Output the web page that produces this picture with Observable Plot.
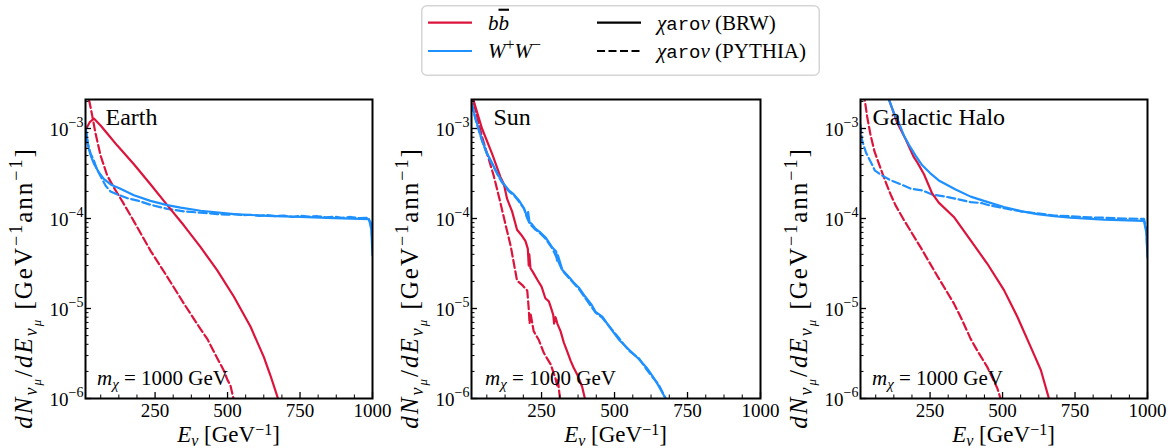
<!DOCTYPE html>
<html><head><meta charset="utf-8">
<script src="https://cdn.jsdelivr.net/npm/d3@7"></script>
<script src="https://cdn.jsdelivr.net/npm/@observablehq/plot@0.6"></script>
<style>
body{margin:0;background:#fff;}
#root{position:relative;width:1172px;height:448px;overflow:hidden;font-family:"Liberation Serif",serif;}
#root svg.panel{position:absolute;top:90px;}
#legend{position:absolute;left:421px;top:5px;overflow:visible;}
</style></head><body><div id="root"></div>
<script>
// ---------------- data (E in GeV, dN/dE) ----------------
const panelTitles = ["Earth", "Sun", "Galactic Halo"];
const xTickValues = [250, 500, 750, 1000];
const yTickValues = [1e-6, 1e-5, 1e-4, 1e-3];
const yTickExponents = ["−6", "−5", "−4", "−3"];

const earth_bb_brw = [[10,9.6e-4],[25,1.18e-3],[39,1.29e-3],[62,1.08e-3],[85,8.8e-4],[119,6.5e-4],[177,4.0e-4],[234,2.4e-4],[292,1.41e-4],[349,8.4e-5],[407,4.8e-5],[464,2.67e-5],[522,1.35e-5],[579,6.3e-6],[625,2.9e-6],[648,1.8e-6],[674,1.0e-6],[690,7e-7]];
const earth_bb_py = [[12,5.0e-3],[22,2.1e-3],[33,1.4e-3],[44,9.0e-4],[62,5.0e-4],[85,3.0e-4],[108,2.2e-4],[137,1.55e-4],[177,9.3e-5],[234,4.4e-5],[292,2.25e-5],[349,1.14e-5],[407,5.9e-6],[430,4.6e-6],[453,3.3e-6],[470,2.6e-6],[487,2.05e-6],[500,1.6e-6],[510,1.4e-6],[522,9.5e-7]];
const earth_ww_brw = [[10,1.05e-3],[15,7.8e-4],[21,6.0e-4],[30,4.8e-4],[40,4.0e-4],[55,3.3e-4],[73,2.75e-4],[100,2.35e-4],[125,2.18e-4],[177,1.81e-4],[234,1.57e-4],[292,1.41e-4],[338,1.32e-4],[407,1.22e-4],[522,1.12e-4],[637,1.07e-4],[752,1.04e-4],[867,1.01e-4],[988,9.85e-5],[996,7.5e-5],[1000,3.9e-5]];
const earth_ww_py = [[10,1.03e-3],[18,6.8e-4],[28,5.2e-4],[38,4.5e-4],[50,3.5e-4],[62,2.95e-4],[80,2.3e-4],[96,2.0e-4],[120,1.85e-4],[155,1.68e-4],[190,1.58e-4],[234,1.42e-4],[292,1.28e-4],[349,1.2e-4],[407,1.16e-4],[440,1.14e-4],[465,1.12e-4],[500,1.1e-4],[522,1.12e-4],[550,1.09e-4],[579,1.1e-4],[610,1.07e-4],[637,1.09e-4],[665,1.06e-4],[694,1.08e-4],[725,1.04e-4],[752,1.07e-4],[780,1.05e-4],[810,1.06e-4],[840,1.03e-4],[867,1.05e-4],[895,1.02e-4],[924,1.04e-4],[955,1.01e-4],[982,1.02e-4],[996,8.8e-5],[1000,5e-5]];

const sun_bb_brw = [[10,2.6e-3],[20,1.9e-3],[46,1.0e-3],[81,5.2e-4],[109,2.9e-4],[121,2.4e-4],[132,1.65e-4],[149,1.2e-4],[166,7.5e-5],[180,6.6e-5],[195,5.6e-5],[203,4.6e-5],[206,3.0e-5],[208,4.0e-5],[212,2.8e-5],[220,2.55e-5],[235,2.1e-5],[250,1.75e-5],[263,1.3e-5],[275,1.2e-5],[281,1.05e-5],[290,8.5e-6],[293,6.8e-6],[298,8.0e-6],[304,6.8e-6],[315,5.6e-6],[326,4.2e-6],[340,3.2e-6],[349,2.65e-6],[360,2.2e-6],[372,1.85e-6],[389,1.35e-6],[400,9.5e-7]];
const sun_bb_py = [[10,2.5e-3],[20,1.8e-3],[46,8.1e-4],[86,3.0e-4],[109,1.5e-4],[126,8.7e-5],[144,5.0e-5],[166,2.04e-5],[184,1.82e-5],[201,1.58e-5],[206,1.0e-5],[209,6.8e-6],[212,8.9e-6],[223,5.6e-6],[240,4.5e-6],[258,3.2e-6],[281,2.4e-6],[298,1.66e-6],[303,1.4e-6],[306,1.6e-6],[313,1.0e-6],[320,7e-7]];
const sun_ww_brw = [[10,1.95e-3],[25,1.25e-3],[46,7.4e-4],[62,5.4e-4],[81,4.1e-4],[100,3.1e-4],[115,2.55e-4],[138,2.06e-4],[155,1.85e-4],[172,1.6e-4],[190,1.3e-4],[200,1.05e-4],[204,1.18e-4],[209,9.0e-5],[215,8.8e-5],[229,7.7e-5],[246,7.0e-5],[263,6.2e-5],[286,4.8e-5],[300,4.3e-5],[303,3.4e-5],[306,3.9e-5],[321,2.7e-5],[343,2.25e-5],[360,1.95e-5],[378,1.7e-5],[400,1.35e-5],[420,1.12e-5],[435,9.2e-6],[458,8.1e-6],[490,5.8e-6],[515,4.5e-6],[549,3.5e-6],[583,2.75e-6],[610,2.2e-6],[629,1.8e-6],[650,1.4e-6],[675,1.0e-6],[690,8e-7]];
const sun_ww_py = [[10,1.9e-3],[25,1.22e-3],[46,7.3e-4],[62,5.3e-4],[81,4.0e-4],[100,3.05e-4],[115,2.5e-4],[138,2.0e-4],[155,1.82e-4],[172,1.55e-4],[190,1.28e-4],[200,1.02e-4],[209,8.8e-5],[229,7.5e-5],[246,6.8e-5],[263,6.0e-5],[286,4.7e-5],[303,3.6e-5],[321,2.65e-5],[343,2.2e-5],[378,1.65e-5],[400,1.3e-5],[435,9.0e-6],[458,7.9e-6],[490,5.9e-6],[515,4.7e-6],[549,3.4e-6],[583,2.8e-6],[610,2.1e-6],[629,1.75e-6],[650,1.45e-6],[675,1.0e-6],[690,8e-7]];

const halo_bb_brw = [[100,2.6e-3],[108,2.1e-3],[137,1.15e-3],[165,7.7e-4],[194,4.8e-4],[206,4.2e-4],[229,3.1e-4],[257,1.9e-4],[280,1.5e-4],[332,1.04e-4],[390,5.7e-5],[447,3.16e-5],[505,1.6e-5],[551,8.1e-6],[597,3.75e-6],[632,2.07e-6],[660,1.0e-6],[675,7e-7]];
const halo_bb_py = [[15,4.5e-3],[25,2.05e-3],[33,1.35e-3],[44.5,8.5e-4],[58,5.6e-4],[73,4.1e-4],[90,2.9e-4],[102,2.3e-4],[114,1.85e-4],[131,1.4e-4],[160,9.6e-5],[217,4.8e-5],[275,2.3e-5],[332,1.14e-5],[360,7.5e-6],[390,4.6e-6],[413,3.4e-6],[447,2.25e-6],[482,1.3e-6],[493,1.0e-6],[500,8.5e-7]];
const halo_ww_brw = [[90,3.3e-3],[108,2.1e-3],[125,1.5e-3],[142,1.17e-3],[160,8.3e-4],[177,6.6e-4],[200,5.0e-4],[223,3.9e-4],[250,3.2e-4],[280,2.65e-4],[338,2.1e-4],[390,1.75e-4],[441,1.55e-4],[505,1.34e-4],[563,1.21e-4],[620,1.12e-4],[678,1.06e-4],[735,1.02e-4],[850,9.7e-5],[988,9.4e-5],[996,7e-5],[1000,3.7e-5]];
const halo_ww_py = [[10,1.1e-3],[15,7.5e-4],[21.5,6.4e-4],[30,5.3e-4],[44.5,4.3e-4],[60,3.4e-4],[85,3.0e-4],[110,2.7e-4],[142,2.45e-4],[183,2.15e-4],[223,2.05e-4],[257,1.85e-4],[315,1.72e-4],[390,1.52e-4],[430,1.48e-4],[447,1.42e-4],[505,1.3e-4],[563,1.2e-4],[620,1.14e-4],[678,1.08e-4],[735,1.06e-4],[800,1.03e-4],[850,1.02e-4],[920,1.0e-4],[988,9.9e-5],[996,7.5e-5],[1000,4e-5]];

// ---------------- styling ----------------
const RED = "#dc143c", BLUE = "#1e90ff";
const SERIF = "Liberation Serif, serif";
const MONO = "Liberation Mono, DejaVu Sans Mono, monospace";
const DASH = "8,3.5";

const xMinor = [];
for (let v = 62.5; v < 1000; v += 62.5) if (!xTickValues.includes(v)) xMinor.push(v);
const yMinor = [];
for (const dec of yTickValues) for (let k = 2; k <= 9; k++) if (dec * k < 2.1e-3) yMinor.push(dec * k);

function rich(sel, parts) {
  let prev = 0;
  for (const p of parts) {
    const s = p.s || 0;
    const ts = sel.append("tspan").text(p.t);
    if (s - prev) ts.attr("dy", s - prev);
    if (p.i) ts.attr("font-style", "italic");
    if (p.m) ts.attr("font-family", MONO);
    if (p.z) ts.attr("font-size", p.z);
    if (p.ov) ts.attr("text-decoration", "overline");
    prev = s;
  }
}

const root = document.getElementById("root");

function panel(cfg) {
  const H = 358, mt = 9, mb = 50;
  const pw = cfg.width - cfg.ml - cfg.mr, ph = H - mt - mb;
  const lines = cfg.series.map(s => Plot.line(s.data, {
    x: d => d[0], y: d => d[1], stroke: s.color, strokeWidth: 2.2,
    strokeDasharray: s.dash ? DASH : null, clip: true
  }));
  const svg = Plot.plot({
    width: cfg.width, height: H,
    marginLeft: cfg.ml, marginRight: cfg.mr, marginTop: mt, marginBottom: mb,
    style: {fontFamily: SERIF, fontSize: "19px", background: "transparent", overflow: "visible", maxWidth: "none", color: "black"},
    x: {type: "linear", domain: [10, 1000]},
    y: {type: "log", domain: [1e-6, 2.1e-3], axis: null},
    marks: [
      ...lines,
      Plot.tickY(yTickValues, {y: d => d, insetRight: pw - 6, stroke: "black", strokeWidth: 1.3}),
      Plot.tickY(yMinor, {y: d => d, insetRight: pw - 3.5, stroke: "black", strokeWidth: 1}),
      Plot.tickX(xTickValues, {x: d => d, insetTop: ph - 6, stroke: "black", strokeWidth: 1.3}),
      Plot.tickX(xMinor, {x: d => d, insetTop: ph - 3.5, stroke: "black", strokeWidth: 1}),
      // y tick labels: "10" with a raised exponent
      Plot.text(yTickValues, {y: d => d, frameAnchor: "left", text: () => "10", textAnchor: "end",
        lineAnchor: "middle", dx: -17, dy: 1, fontSize: 19, fill: "black"}),
      Plot.text(yTickValues, {y: d => d, frameAnchor: "left", text: d => yTickExponents[yTickValues.indexOf(d)],
        textAnchor: "end", lineAnchor: "middle", dx: -2, dy: -6, fontSize: 14, fill: "black"}),
      Plot.axisX({ticks: xTickValues, tickSize: 0, tickPadding: 5, label: null, fontSize: 19,
        tickFormat: d => String(d)}),
      Plot.frame({stroke: "black", strokeWidth: 2}),
      Plot.text([cfg.title], {text: d => d, frameAnchor: "top-left", textAnchor: "start", lineAnchor: "top",
        dx: cfg.titleDx, dy: 8, fontSize: 24, fill: "black"})
    ]
  });
  svg.classList.add("panel");
  svg.style.left = cfg.left + "px";
  const g = d3.select(svg);
  // y label
  const yl = g.append("text")
    .attr("transform", `translate(${cfg.ml - 53},${198}) rotate(-90)`)
    .attr("text-anchor", "middle").attr("font-size", 25).attr("fill", "black")
    .attr("font-family", SERIF).attr("letter-spacing", 2);
  rich(yl, [
    {t: "dN", i: 1}, {t: "ν", i: 1, s: 5, z: 18}, {t: "μ", i: 1, s: 9, z: 13},
    {t: "/"}, {t: "dE", i: 1}, {t: "ν", i: 1, s: 5, z: 18}, {t: "μ", i: 1, s: 9, z: 13},
    {t: " [GeV"}, {t: "−1", s: -10, z: 18}, {t: "ann"}, {t: "−1", s: -10, z: 18}, {t: "]"}
  ]);
  // x label
  const xl = g.append("text")
    .attr("x", cfg.ml + pw / 2).attr("y", 352)
    .attr("text-anchor", "middle").attr("font-size", 23).attr("fill", "black").attr("font-family", SERIF);
  rich(xl, [{t: "E", i: 1}, {t: "ν", i: 1, s: 4, z: 16}, {t: " [GeV"}, {t: "−1", s: -7, z: 16}, {t: "]"}]);
  // mass annotation
  const ma = g.append("text")
    .attr("x", cfg.ml + cfg.mDx).attr("y", mt + ph - 13).attr("text-anchor", "start")
    .attr("font-size", 21).attr("fill", "black").attr("font-family", SERIF);
  rich(ma, [{t: "m", i: 1}, {t: "χ", i: 1, s: 4, z: 15}, {t: " = 1000 GeV"}]);
  root.appendChild(svg);
}

panel({left: 0, width: 390, ml: 85, mr: 18, title: panelTitles[0], titleDx: 20, mDx: 12,
  series: [{data: earth_bb_py, color: RED, dash: 1}, {data: earth_ww_py, color: BLUE, dash: 1},
           {data: earth_bb_brw, color: RED}, {data: earth_ww_brw, color: BLUE}]});
panel({left: 390, width: 386, ml: 81, mr: 16, title: panelTitles[1], titleDx: 22, mDx: 14,
  series: [{data: sun_bb_py, color: RED, dash: 1}, {data: sun_ww_py, color: BLUE, dash: 1},
           {data: sun_bb_brw, color: RED}, {data: sun_ww_brw, color: BLUE}]});
panel({left: 776, width: 396, ml: 84, mr: 25, title: panelTitles[2], titleDx: 12, mDx: 12,
  series: [{data: halo_bb_py, color: RED, dash: 1}, {data: halo_ww_py, color: BLUE, dash: 1},
           {data: halo_bb_brw, color: RED}, {data: halo_ww_brw, color: BLUE}]});

// ---------------- legend ----------------
const leg = d3.select(root).append("svg").attr("id", "legend").attr("width", 400).attr("height", 72);
leg.append("rect").attr("x", 0.75).attr("y", 0.75).attr("width", 397.5).attr("height", 69.5)
  .attr("rx", 5).attr("fill", "white").attr("stroke", "#d5d5d5").attr("stroke-width", 1.5);
const legItems = [
  {x: 7, y: 17.7, color: RED, dash: null, parts: [{t: "b", i: 1}, {t: "b", i: 1, ov: 1}]},
  {x: 7, y: 46, color: BLUE, dash: null, parts: [{t: "W", i: 1}, {t: "+", s: -8, z: 16}, {t: "W", i: 1}, {t: "−", s: -8, z: 16}]},
  {x: 176, y: 17.7, color: "black", dash: null, parts: [{t: "χ", i: 1}, {t: "aro", m: 1, z: 19}, {t: "ν", i: 1}, {t: " (BRW)"}]},
  {x: 176, y: 46, color: "black", dash: DASH, parts: [{t: "χ", i: 1}, {t: "aro", m: 1, z: 19}, {t: "ν", i: 1}, {t: " (PYTHIA)"}]}
];
for (const it of legItems) {
  leg.append("line").attr("x1", it.x).attr("x2", it.x + 44).attr("y1", it.y).attr("y2", it.y)
    .attr("stroke", it.color).attr("stroke-width", 2.2).attr("stroke-dasharray", it.dash);
  const t = leg.append("text").attr("x", it.x + 60).attr("y", it.y + 7)
    .attr("font-size", 21).attr("font-family", SERIF).attr("fill", "black");
  rich(t, it.parts);
}
</script></body></html>
